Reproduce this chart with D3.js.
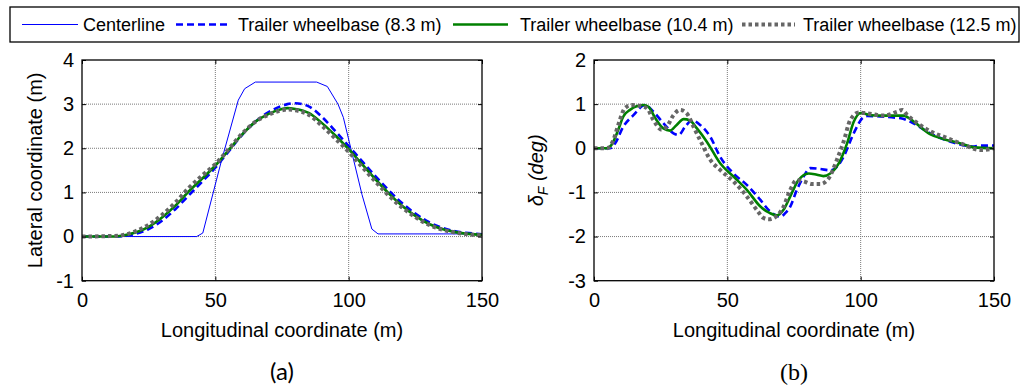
<!DOCTYPE html>
<html>
<head>
<meta charset="utf-8">
<script src="https://cdn.jsdelivr.net/npm/d3@7"></script>
<style>
  html, body { margin: 0; padding: 0; background: #fff; }
  svg { display: block; }
</style>
</head>
<body>
<svg id="chart" width="1021" height="389"></svg>
<script>
// ---- tick labels ----
const xTicks = [0, 50, 100, 150];
const latTicks = [-1, 0, 1, 2, 3, 4];
const steerTicks = [-3, -2, -1, 0, 1, 2];

// ---- (a) lateral path: centerline ----
const centerX = [0, 43, 45.3, 52, 58.6, 61, 65, 88, 92, 96, 98, 101, 105, 108.7, 111, 150];
const centerY = [0, 0, 0.08, 1.65, 3.09, 3.35, 3.5, 3.5, 3.4, 3.0, 2.7, 1.95, 0.95, 0.17, 0.06, 0.06];

// ---- (a) lateral path of each trailer ----
const latX = [0, 10, 15, 20, 25, 30, 35, 40, 45, 50, 55, 60, 65, 70, 75, 77, 80, 85, 90, 95, 100, 105, 110, 115, 120, 125, 130, 135, 140, 145, 150];
const lat83 = [0, 0, 0.01, 0.06, 0.17, 0.36, 0.62, 0.93, 1.24, 1.56, 1.93, 2.3, 2.6, 2.82, 2.96, 3.0, 3.02, 2.95, 2.71, 2.39, 2.05, 1.71, 1.37, 1.05, 0.76, 0.52, 0.33, 0.2, 0.12, 0.08, 0.05];
const lat104 = [0, 0, 0.02, 0.09, 0.22, 0.43, 0.7, 1.02, 1.31, 1.61, 1.96, 2.31, 2.6, 2.78, 2.89, 2.91, 2.89, 2.8, 2.57, 2.29, 1.98, 1.64, 1.3, 0.98, 0.7, 0.47, 0.29, 0.17, 0.1, 0.06, 0.04];
const lat125 = [0, 0.01, 0.03, 0.12, 0.27, 0.49, 0.77, 1.1, 1.38, 1.64, 1.98, 2.33, 2.6, 2.76, 2.86, 2.88, 2.86, 2.76, 2.51, 2.22, 1.92, 1.58, 1.25, 0.93, 0.66, 0.44, 0.27, 0.16, 0.09, 0.05, 0.03];

// ---- (b) front steering angle, deg ----
const steer83X = [0, 6, 7.9, 11, 14.8, 19.2, 22.3, 26, 29.8, 31.7, 34.2, 36.7, 39.8, 43.6, 47.3, 52.3, 57.3, 62.4, 66, 69.9, 71.7, 73.6, 76.1, 78.6, 81.1, 84.9, 88.6, 91.1, 93.6, 97.4, 100.6, 102.4, 115, 118.7, 126, 133.7, 142.5, 145, 150];
const steer83Y = [0, 0, 0.11, 0.49, 0.75, 0.98, 0.83, 0.57, 0.34, 0.3, 0.49, 0.63, 0.53, 0.26, -0.19, -0.57, -0.83, -1.17, -1.43, -1.55, -1.47, -1.32, -0.94, -0.64, -0.45, -0.47, -0.5, -0.42, -0.19, 0.34, 0.68, 0.73, 0.68, 0.6, 0.34, 0.15, 0.04, 0.06, 0.06];

const steer104X = [0, 4.8, 6.6, 9.1, 11, 13.5, 18.5, 20.4, 23, 26, 28.5, 31, 33.6, 36, 38.6, 42.3, 47.3, 52.3, 57.3, 62.4, 66, 68.6, 71, 73.6, 76.7, 80.5, 83.6, 86, 88.6, 91.8, 94.9, 97.4, 100, 103.7, 108.7, 116, 120, 126, 131, 137.5, 142.5, 150];
const steer104Y = [0, 0, 0.08, 0.42, 0.72, 0.87, 0.98, 0.94, 0.68, 0.45, 0.4, 0.53, 0.66, 0.63, 0.45, 0.15, -0.34, -0.64, -0.94, -1.32, -1.47, -1.52, -1.4, -1.09, -0.72, -0.57, -0.6, -0.63, -0.57, -0.34, 0.11, 0.6, 0.8, 0.75, 0.74, 0.74, 0.6, 0.32, 0.21, 0.11, 0.02, 0];

const steer125X = [0, 4.8, 7.3, 9.1, 11.6, 14.1, 17.3, 19.8, 22.3, 25.4, 27.3, 29.8, 32.3, 34.8, 37.3, 40.4, 43.6, 47.3, 52.3, 57.3, 61.1, 63.6, 65.5, 68.6, 71.1, 73.6, 76.1, 78.6, 81.8, 84.9, 88, 91.1, 93.6, 96.1, 99.3, 102.4, 108.7, 113.7, 115.6, 117.5, 121.3, 126.3, 132.5, 137.5, 145, 150];
const steer125Y = [0, 0, 0.19, 0.53, 0.91, 0.98, 0.96, 0.91, 0.64, 0.42, 0.49, 0.75, 0.87, 0.79, 0.49, 0.11, -0.26, -0.49, -0.75, -1.09, -1.4, -1.58, -1.61, -1.53, -1.32, -0.94, -0.72, -0.75, -0.81, -0.81, -0.68, -0.26, 0.15, 0.64, 0.81, 0.79, 0.74, 0.83, 0.87, 0.75, 0.57, 0.38, 0.23, 0.11, -0.04, 0];

// ---- legend entries ----
const legendLabels = ["Centerline", "Trailer wheelbase (8.3 m)", "Trailer wheelbase (10.4 m)", "Trailer wheelbase (12.5 m)"];

// line styles, one per series
const styles = [
  { stroke: "#0000ff", width: 1, dash: null },
  { stroke: "#0000ff", width: 2.6, dash: "7,4" },
  { stroke: "#008000", width: 2.6, dash: null },
  { stroke: "#666666", width: 4, dash: "3.5,3" }
];

const svg = d3.select("#chart");
const FONT = "'Liberation Sans', Arial, sans-serif";

function zip(xs, ys) { return xs.map((x, i) => [x, ys[i]]); }

function panel(opts) {
  const { left, right, y0, y1, yDomain, yTicks, series, yTitle, caption, captionFont } = opts;
  const x = d3.scaleLinear().domain([0, 150]).range([left, right]);
  const y = d3.scaleLinear().domain(yDomain).range([y1, y0]);
  const g = svg.append("g");

  // dotted grid
  const grid = g.append("g");
  grid.selectAll("line.gx").data(xTicks.slice(1, -1)).join("line")
    .attr("x1", d => x(d)).attr("x2", d => x(d)).attr("y1", y0).attr("y2", y1)
    .attr("stroke", "#7a7a7a").attr("stroke-width", 1).attr("stroke-dasharray", "1,1");
  grid.selectAll("line.gy").data(yTicks.slice(1, -1)).join("line")
    .attr("y1", d => y(d)).attr("y2", d => y(d)).attr("x1", left).attr("x2", right)
    .attr("stroke", "#7a7a7a").attr("stroke-width", 1).attr("stroke-dasharray", "1,1");

  // data lines: thin centerline as straight segments, trailer paths smoothed
  const smooth = d3.line().x(d => x(d[0])).y(d => y(d[1])).curve(d3.curveMonotoneX);
  const straight = d3.line().x(d => x(d[0])).y(d => y(d[1]));
  series.forEach(s => {
    g.append("path")
      .attr("d", (s.style.width === 1 ? straight : smooth)(s.data))
      .attr("fill", "none")
      .attr("stroke", s.style.stroke)
      .attr("stroke-width", s.style.width)
      .attr("stroke-dasharray", s.style.dash);
  });

  // axes with inward ticks on all four sides
  const tick = 4;
  const fmt = d => String(d);
  const axB = d3.axisBottom(x).tickValues(xTicks).tickSize(-tick).tickPadding(12).tickFormat(fmt);
  const axT = d3.axisTop(x).tickValues(xTicks).tickSize(-tick).tickFormat("");
  const axL = d3.axisLeft(y).tickValues(yTicks).tickSize(-tick).tickPadding(8).tickFormat(fmt);
  const axR = d3.axisRight(y).tickValues(yTicks).tickSize(-tick).tickFormat("");
  const styleAxis = sel => {
    sel.select(".domain").remove();
    sel.selectAll("line").attr("stroke", "#000");
    sel.selectAll("text").attr("font-family", FONT).attr("font-size", 20).attr("fill", "#000");
  };
  g.append("g").attr("transform", `translate(0,${y1})`).call(axB).call(styleAxis);
  g.append("g").attr("transform", `translate(0,${y0})`).call(axT).call(styleAxis);
  g.append("g").attr("transform", `translate(${left},0)`).call(axL).call(styleAxis);
  g.append("g").attr("transform", `translate(${right},0)`).call(axR).call(styleAxis);

  g.append("rect").attr("x", left).attr("y", y0).attr("width", right - left).attr("height", y1 - y0)
    .attr("fill", "none").attr("stroke", "#000").attr("stroke-width", 1.3);

  // axis titles
  g.append("text").attr("x", (left + right) / 2).attr("y", y1 + 56)
    .attr("text-anchor", "middle").attr("font-family", FONT).attr("font-size", 20)
    .text("Longitudinal coordinate (m)");
  yTitle(g, (y0 + y1) / 2);

  g.append("text").attr("x", (left + right) / 2).attr("y", y1 + 99)
    .attr("text-anchor", "middle").attr("font-family", captionFont).attr("font-size", 24)
    .text(caption);
}

const plotTop = 60, plotBottom = 280.7;

panel({
  left: 82, right: 482, y0: plotTop, y1: plotBottom,
  yDomain: [-1, 4], yTicks: latTicks,
  series: [
    { data: zip(centerX, centerY), style: styles[0] },
    { data: zip(latX, lat83), style: styles[1] },
    { data: zip(latX, lat104), style: styles[2] },
    { data: zip(latX, lat125), style: styles[3] }
  ],
  yTitle: (g, cy) => g.append("text")
    .attr("transform", `translate(42,${cy}) rotate(-90)`)
    .attr("text-anchor", "middle").attr("font-family", FONT).attr("font-size", 20)
    .text("Lateral coordinate (m)"),
  caption: "(a)", captionFont: "Lato, 'Open Sans', sans-serif"
});

panel({
  left: 594, right: 994, y0: plotTop, y1: plotBottom,
  yDomain: [-3, 2], yTicks: steerTicks,
  series: [
    { data: zip(steer83X, steer83Y), style: styles[1] },
    { data: zip(steer104X, steer104Y), style: styles[2] },
    { data: zip(steer125X, steer125Y), style: styles[3] }
  ],
  yTitle: (g, cy) => {
    const t = g.append("text")
      .attr("transform", `translate(543,${cy}) rotate(-90)`)
      .attr("text-anchor", "middle").attr("font-family", FONT).attr("font-size", 20)
      .attr("font-style", "italic");
    t.append("tspan").text("δ");
    t.append("tspan").attr("font-size", 14).attr("dy", 5).text("F");
    t.append("tspan").attr("dy", -5).text(" (deg)");
  },
  caption: "(b)", captionFont: "'Liberation Serif', 'Times New Roman', serif"
});

// ---- legend ----
const leg = svg.append("g");
const legTop = 7, legBottom = 42, legMid = (legTop + legBottom) / 2;
leg.append("rect").attr("x", 10).attr("y", legTop).attr("width", 1009).attr("height", legBottom - legTop)
  .attr("fill", "#fff").attr("stroke", "#000").attr("stroke-width", 1.3);
const legLineX = [[22, 78], [176, 228], [453, 508], [742, 795]];
const legTextX = [83, 238, 520, 803];
legendLabels.forEach((lab, i) => {
  const s = styles[i];
  leg.append("line").attr("x1", legLineX[i][0]).attr("x2", legLineX[i][1])
    .attr("y1", legMid).attr("y2", legMid)
    .attr("stroke", s.stroke).attr("stroke-width", s.width).attr("stroke-dasharray", s.dash);
  leg.append("text").attr("x", legTextX[i]).attr("y", legMid).attr("dy", "0.35em")
    .attr("font-family", FONT).attr("font-size", 18).text(lab);
});
</script>
</body>
</html>
